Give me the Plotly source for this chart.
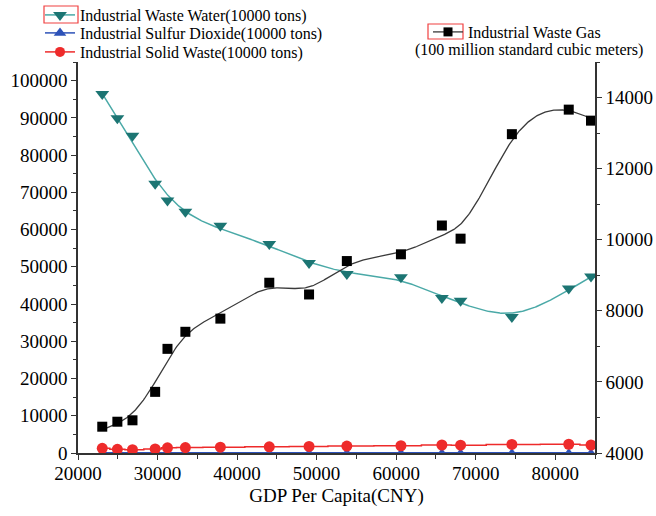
import numpy as np
import plotly.graph_objects as go

# ---------------- data ----------------
gdp = [23050, 24950, 26850, 29700, 31250, 33500, 37900, 44050, 49050,
       53800, 60600, 65750, 68100, 74550, 81700, 84500]
waste_water = [96400, 89900, 85200, 72300, 67800, 64800, 61000, 56100, 51000,
               48100, 47200, 41600, 40900, 36500, 44200, 47400]
sulfur_dioxide = [60, 70, 75, 80, 85, 80, 90, 95, 90, 88, 85, 80, 78, 75, 72, 70]
solid_waste = [1260, 1000, 900, 1100, 1400, 1450, 1550, 1650, 1750, 1850,
               1950, 2150, 2100, 2300, 2350, 2150]
waste_gas = [4740, 4880, 4920, 5720, 6930, 7410, 7780, 8790, 8460,
             9400, 9590, 10400, 10030, 12970, 13660, 13350]

name_water = "Industrial Waste Water(10000 tons)"
name_so2 = "Industrial Sulfur Dioxide(10000 tons)"
name_solid = "Industrial Solid Waste(10000 tons)"
name_gas = "Industrial Waste Gas"
gas_unit = "(100 million standard cubic meters)"
x_title = "GDP Per Capita(CNY)"

FONT = "Liberation Serif, Times New Roman, serif"
W, H = 656, 516
L, R, T, B = 78, 61, 62, 63


def smooth_curve(x, y, lam, n=500):
    """Penalised (smoothing-spline like) curve through the data."""
    x = np.asarray(x, float)
    y = np.asarray(y, float)
    xs = np.linspace(x.min(), x.max(), n)
    Bm = np.zeros((len(x), n))
    pos = (x - xs[0]) / (xs[1] - xs[0])
    for i, p in enumerate(pos):
        j = min(int(np.floor(p)), n - 2)
        f = p - j
        Bm[i, j] += 1 - f
        Bm[i, j + 1] += f
    D = np.diff(np.eye(n), 2, axis=0)
    A = Bm.T @ Bm + lam * D.T @ D
    f = np.linalg.solve(A, Bm.T @ y)
    return xs, f


wx, wy = smooth_curve(gdp, waste_water, 8000)
gx, gy = smooth_curve(gdp, waste_gas, 3000)

teal_m = "#1c7573"
teal_l = "#4aa9a7"
red = "#ee2b2b"
blue = "#2d52b8"

fig = go.Figure()

# fitted curves
fig.add_trace(go.Scatter(x=wx, y=wy, mode="lines", line=dict(color=teal_l, width=1.5),
                         showlegend=False, hoverinfo="skip"))
fig.add_trace(go.Scatter(x=gx, y=gy, mode="lines", line=dict(color="#3a3a3a", width=1.3),
                         showlegend=False, hoverinfo="skip", yaxis="y2"))

# data lines
fig.add_trace(go.Scatter(x=gdp, y=sulfur_dioxide, mode="lines+markers",
                         line=dict(color=blue, width=1.5),
                         marker=dict(symbol="triangle-up", size=9, color=blue),
                         showlegend=False))
fig.add_trace(go.Scatter(x=gdp, y=solid_waste, mode="lines+markers",
                         line=dict(color=red, width=1.5, shape="hvh"),
                         marker=dict(symbol="circle", size=11, color=red),
                         showlegend=False))
fig.add_trace(go.Scatter(x=gdp, y=waste_water, mode="markers",
                         marker=dict(symbol="triangle-down", size=12, color=teal_m),
                         showlegend=False))
fig.add_trace(go.Scatter(x=gdp, y=waste_gas, mode="markers", yaxis="y2",
                         marker=dict(symbol="square", size=10, color="black"),
                         showlegend=False))

# legend entries
fig.add_trace(go.Scatter(x=[None], y=[None], mode="lines+markers", name=name_water,
                         line=dict(color=teal_l, width=1.5),
                         marker=dict(symbol="triangle-down", size=12, color=teal_m),
                         legend="legend"))
fig.add_trace(go.Scatter(x=[None], y=[None], mode="lines+markers", name=name_so2,
                         line=dict(color=blue, width=1.5),
                         marker=dict(symbol="triangle-up", size=11, color=blue),
                         legend="legend3"))
fig.add_trace(go.Scatter(x=[None], y=[None], mode="lines+markers", name=name_solid,
                         line=dict(color=red, width=1.5),
                         marker=dict(symbol="circle", size=10, color=red),
                         legend="legend4"))
fig.add_trace(go.Scatter(x=[None], y=[None], mode="lines+markers", name=name_gas,
                         line=dict(color="#3a3a3a", width=1.3),
                         marker=dict(symbol="square", size=9, color="black"),
                         legend="legend2"))

axis_common = dict(showline=True, linecolor="#333333", linewidth=1.5, showgrid=False,
                   zeroline=False, ticks="outside", ticklen=5, tickwidth=1.2,
                   tickcolor="#333333", tickformat="d", automargin=False,
                   tickfont=dict(family=FONT, size=19, color="black"))


def leg(px, py):
    return dict(xref="container", yref="container", x=px / W, y=1 - py / H,
                xanchor="left", yanchor="middle", bgcolor="rgba(0,0,0,0)",
                font=dict(family=FONT, size=16, color="black"), itemwidth=30)


fig.update_layout(
    width=W, height=H,
    margin=dict(l=L, r=R, t=T, b=B, autoexpand=False),
    paper_bgcolor="white", plot_bgcolor="white",
    font=dict(family=FONT, color="black"),
    xaxis=dict(range=[20000, 85000], tick0=20000, dtick=10000, ticklabelstandoff=-3,
               minor=dict(dtick=5000, ticks="outside", ticklen=4, tickcolor="#333333"),
               title=dict(text=x_title, font=dict(family=FONT, size=19), standoff=6),
               **axis_common),
    yaxis=dict(range=[0, 105000], tick0=0, dtick=10000,
               minor=dict(dtick=5000, ticks="outside", ticklen=3, tickcolor="#333333"),
               **axis_common),
    yaxis2=dict(range=[4000, 15000], tick0=4000, dtick=2000, overlaying="y", side="right",
                minor=dict(dtick=1000, ticks="outside", ticklen=3, tickcolor="#333333"),
                **axis_common),
    legend=leg(40, 15),
    legend3=leg(40, 33),
    legend4=leg(40, 52),
    legend2=leg(428, 32),
)

pw, ph = W - L - R, H - T - B


def px2paper(px, py):
    return (px - L) / pw, (H - B - py) / ph


ax, ay = px2paper(413, 50)
fig.add_annotation(text=gas_unit, x=ax, y=ay, xref="paper", yref="paper",
                   xanchor="left", yanchor="middle", showarrow=False,
                   font=dict(family=FONT, size=16, color="black"))

# red highlight boxes around legend symbols
for (x0, y0, x1, y1) in [(44, 6, 78, 23), (428, 24, 463, 39)]:
    a0, b0 = px2paper(x0, y1)
    a1, b1 = px2paper(x1, y0)
    fig.add_shape(type="rect", xref="paper", yref="paper", x0=a0, y0=b0, x1=a1, y1=b1,
                  line=dict(color="#f04040", width=1.2), fillcolor="rgba(0,0,0,0)")

fig.write_html("out.html")
